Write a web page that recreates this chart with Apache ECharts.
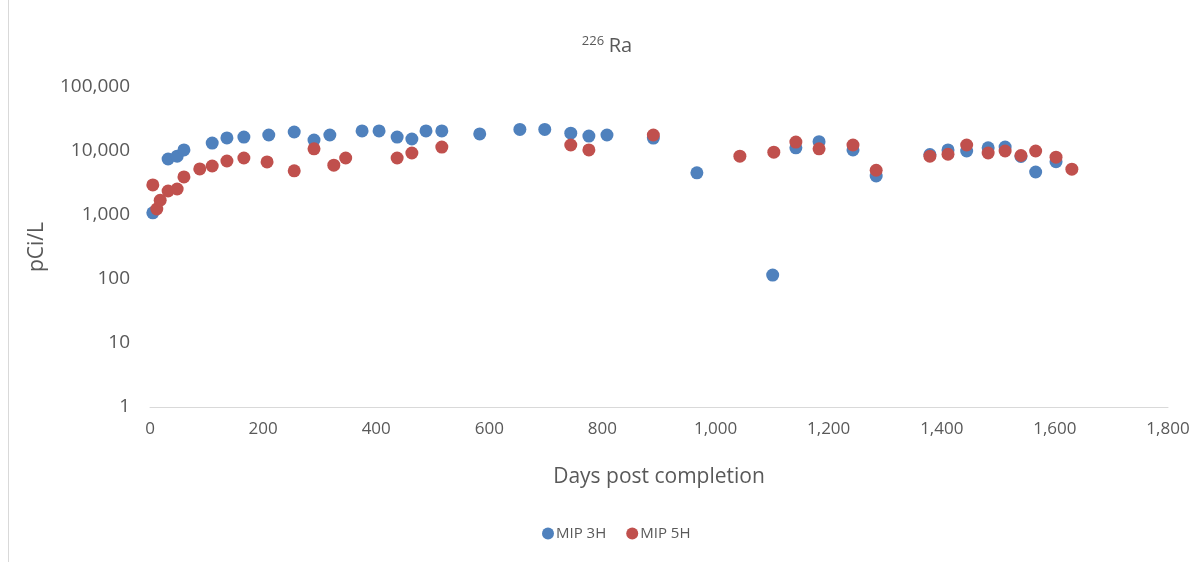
<!DOCTYPE html>
<html>
<head>
<meta charset="utf-8">
<script src="https://cdn.jsdelivr.net/npm/echarts@6/dist/echarts.min.js"></script>
<style>
html,body{margin:0;padding:0;background:#fff;}
#c{width:1198px;height:562px;}
</style>
</head>
<body>
<div id="c"></div>
<script>
// Days post completion and 226Ra (pCi/L)
const mip3hDays = [5, 32, 48, 60, 110, 136, 166, 210, 255, 290, 318, 375, 405, 437, 463, 488, 516, 583, 654, 698, 744, 776, 808, 890, 967, 1101, 1142, 1183, 1243, 1284, 1379, 1411, 1444, 1482, 1512, 1540, 1566, 1602];
const mip3hVals = [1080, 7500, 8300, 10400, 13300, 16000, 16500, 17800, 19800, 14800, 17800, 20600, 20600, 16500, 15400, 20600, 20600, 18500, 21700, 21700, 19000, 17100, 17800, 15900, 4560, 115, 11200, 14000, 10400, 4070, 8800, 10400, 10000, 11200, 11500, 8200, 4700, 6800];
const mip5hDays = [5, 12, 18, 32, 48, 60, 88, 110, 136, 166, 207, 255, 290, 325, 346, 437, 463, 516, 744, 776, 890, 1043, 1103, 1142, 1183, 1243, 1284, 1379, 1411, 1444, 1482, 1512, 1540, 1566, 1602, 1630];
const mip5hVals = [2950, 1240, 1700, 2370, 2550, 3930, 5250, 5830, 6980, 7770, 6750, 4900, 10800, 6000, 7770, 7770, 9300, 11500, 12400, 10400, 17800, 8300, 9600, 13800, 10800, 12400, 5000, 8300, 8900, 12400, 9300, 10000, 8500, 10000, 8000, 5200];
const seriesNames = ['MIP 3H', 'MIP 5H'];
const titleIsotope = '226';
const titleElement = 'Ra';

const fmt = v => Number(v).toLocaleString('en-US');
const pair = (xs, ys) => xs.map((x, i) => [x, ys[i]]);

const chart = echarts.init(document.getElementById('c'), null, {renderer: 'canvas'});
chart.setOption({
  backgroundColor: '#fff',
  animation: false,
  textStyle: {fontFamily: 'Open Sans'},
  title: {
    text: '{sup|' + titleIsotope + '} {main|' + titleElement + '}',
    left: 602, top: 30, textAlign: 'center',
    textStyle: {
      fontWeight: 'normal',
      rich: {
        sup: {fontSize: 13, color: '#595959', fontFamily: 'Open Sans', fontWeight: 'normal', verticalAlign: 'top', padding: [0, 0, 9, 0]},
        main: {fontSize: 20, color: '#595959', fontFamily: 'Open Sans', fontWeight: 'normal'}
      }
    }
  },
  legend: {
    data: seriesNames,
    bottom: 16, left: 537,
    itemWidth: 12, itemHeight: 12, itemGap: 20,
    icon: 'circle',
    textStyle: {fontSize: 15, color: '#595959', fontFamily: 'Open Sans', padding: [0, 0, 0, -3]}
  },
  grid: {left: 150, right: 30, top: 87, bottom: 155, containLabel: false},
  xAxis: {
    type: 'value', min: 0, max: 1800, interval: 200,
    name: 'Days post completion', nameLocation: 'middle', nameGap: 60,
    nameTextStyle: {fontSize: 21, color: '#595959', fontFamily: 'Open Sans'},
    axisLine: {show: true, lineStyle: {color: '#d9d9d9', width: 1}},
    axisTick: {show: false},
    splitLine: {show: false},
    axisLabel: {fontSize: 17, color: '#595959', margin: 14, formatter: fmt, fontFamily: 'Open Sans'}
  },
  yAxis: {
    type: 'log', logBase: 10, min: 1, max: 100000,
    name: 'pCi/L', nameLocation: 'middle', nameGap: 102, nameRotate: 90,
    nameTextStyle: {fontSize: 21, color: '#595959', fontFamily: 'Open Sans'},
    axisLine: {show: false},
    axisTick: {show: false},
    splitLine: {show: false},
    axisLabel: {fontSize: 19, color: '#595959', margin: 20, formatter: fmt, fontFamily: 'Open Sans'}
  },
  series: [
    {name: seriesNames[0], type: 'scatter', symbolSize: 13, itemStyle: {color: '#4F81BD', opacity: 1}, data: pair(mip3hDays, mip3hVals)},
    {name: seriesNames[1], type: 'scatter', symbolSize: 13, itemStyle: {color: '#C0504D', opacity: 1}, data: pair(mip5hDays, mip5hVals)}
  ],
  graphic: [{
    type: 'line', shape: {x1: 8.5, y1: 0, x2: 8.5, y2: 562},
    style: {stroke: '#d9d9d9', lineWidth: 1}
  }]
});
</script>
</body>
</html>
